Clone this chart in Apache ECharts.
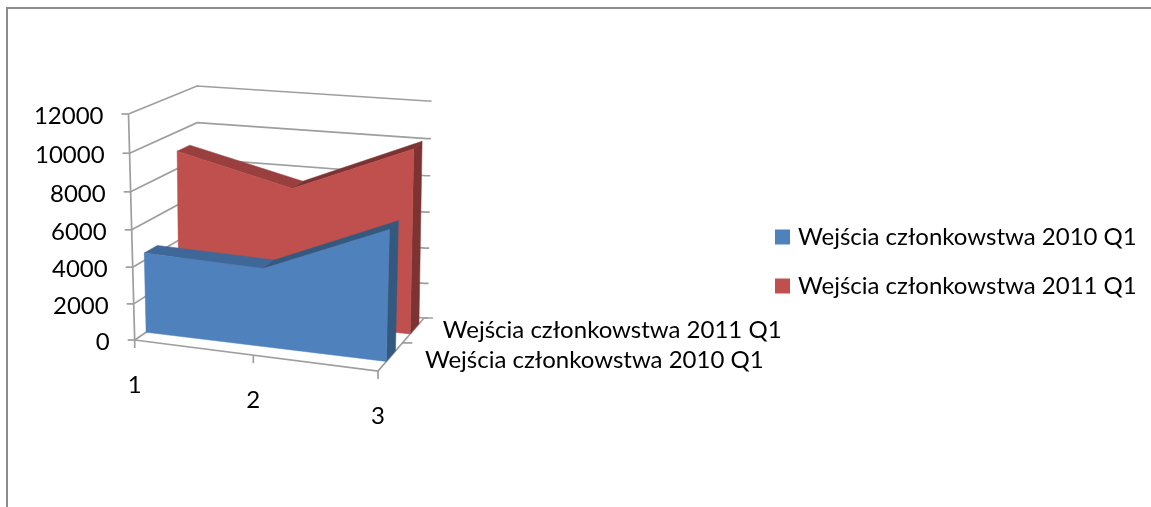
<!DOCTYPE html>
<html>
<head>
<meta charset="utf-8">
<style>
  html, body { margin: 0; padding: 0; background: #fff; }
  #chart { width: 1151px; height: 507px; }
</style>
<script src="https://cdn.jsdelivr.net/npm/echarts@6/dist/echarts.min.js"></script>
</head>
<body>
<div id="chart"></div>
<script>
var categories = ['1', '2', '3']
var valueTicks = [0, 2000, 4000, 6000, 8000, 10000, 12000]
var name2010 = 'Wejścia członkowstwa 2010 Q1'
var name2011 = 'Wejścia członkowstwa 2011 Q1'
var values2010 = [4400, 4270, 7050]
var values2011 = [8950, 7450, 10100]

var FONT = '24px Lato'
var LINE = '#9e9e9e'

// corners of the 3d box on screen: front/back, left/right, bottom/top
var box = {
  flb: [134.7, 340], flt: [128.5, 114], frb: [378, 371], frt: [384, 139],
  blb: [198, 297], blt: [197, 86], brb: [424, 318], brt: [427.5, 101]
}

function lerp(a, b, t) {
  return [a[0] + (b[0] - a[0]) * t, a[1] + (b[1] - a[1]) * t]
}

// slight perspective foreshortening
function warp(t) {
  return t - 0.05 * t * (1 - t)
}

// category/value come through the hidden axes, w is the depth in the box (0 front, 1 back)
function project(params, api, cat, val, w) {
  var c = api.coord([cat, val])
  var s = params.coordSys
  var u = warp((c[0] - s.x) / s.width)
  var v = warp(1 - (c[1] - s.y) / s.height)
  var front = lerp(lerp(box.flb, box.frb, u), lerp(box.flt, box.frt, u), v)
  var back = lerp(lerp(box.blb, box.brb, u), lerp(box.blt, box.brt, u), v)
  return lerp(front, back, w)
}

function poly(points, fill) {
  return { type: 'polygon', shape: { points: points }, style: { fill: fill, stroke: fill, lineWidth: 0.5 } }
}

function line(points) {
  return { type: 'polyline', shape: { points: points }, style: { stroke: LINE, lineWidth: 1.7, fill: null } }
}

function label(text, x, y, align) {
  return { type: 'text', style: { text: text, x: x, y: y, align: align, verticalAlign: 'middle', font: FONT, fill: '#000' } }
}

function areaRender(values, w0, w1, front, top, side) {
  return function (params, api) {
    var i = params.dataIndex
    var cat = api.value(0)
    var val = api.value(1)
    var children = []
    if (i < values.length - 1) {
      var next = values[i + 1]
      children.push(poly([
        project(params, api, cat, val, w0),
        project(params, api, cat, val, w1),
        project(params, api, cat + 1, next, w1),
        project(params, api, cat + 1, next, w0)
      ], next > val ? side : top))
    } else {
      children.push(poly([
        project(params, api, cat, 0, w0),
        project(params, api, cat, val, w0),
        project(params, api, cat, val, w1),
        project(params, api, cat, 0, w1)
      ], side))
      // whole front face in one piece, so no seam at the middle category
      var outline = [project(params, api, 1, 0, w0)]
      values.forEach(function (v, k) {
        outline.push(project(params, api, k + 1, v, w0))
      })
      outline.push(project(params, api, cat, 0, w0))
      outline.push(project(params, api, 2, 0, w0))
      children.push(poly(outline, front))
    }
    return { type: 'group', children: children }
  }
}

function gridRender(params, api) {
  var val = api.value(0)
  var p0 = project(params, api, 1, val, 0)
  var end = project(params, api, 3, val, 1)
  var children = [
    line([p0, project(params, api, 1, val, 1), end, [end[0] + 4, end[1]]]),
    line([[p0[0] - 7, p0[1]], p0]),
    label(String(val), p0[0] - 25, p0[1] + 2, 'right')
  ]
  return { type: 'group', children: children }
}

function floorRender(params, api) {
  var cat = api.value(0)
  var p = project(params, api, cat, 0, 0)
  var children = [
    line([p, [p[0], p[1] + 8]]),
    label(categories[cat - 1], p[0], p[1] + 45, 'center')
  ]
  if (params.dataIndex === 0) {
    children.push(line([p, project(params, api, 3, 0, 0), project(params, api, 3, 0, 1), [box.brb[0] + 9, box.brb[1]]]))
    children.push(line([p, project(params, api, 1, 12000, 0)]))
    var mid = project(params, api, 3, 0, 0.53)
    children.push(line([mid, [mid[0] + 10, mid[1]]]))
    var p2011 = project(params, api, 3, 0, 0.8)
    var p2010 = project(params, api, 3, 0, 0.28)
    children.push(label(name2011, p2011[0] + 28, p2011[1] + 2, 'left'))
    children.push(label(name2010, p2010[0] + 34, p2010[1] + 4, 'left'))
  }
  return { type: 'group', children: children }
}

var chart = echarts.init(document.getElementById('chart'))
chart.setOption({
  animation: false,
  backgroundColor: '#fff',
  grid: { left: 100, right: 100, top: 50, bottom: 50 },
  xAxis: { type: 'value', min: 1, max: 3, show: false },
  yAxis: { type: 'value', min: 0, max: 12000, interval: 2000, show: false },
  legend: {
    orient: 'vertical',
    left: 770,
    top: 216,
    icon: 'rect',
    itemWidth: 15,
    itemHeight: 15,
    itemGap: 17,
    selectedMode: false,
    data: [name2010, name2011],
    textStyle: { fontFamily: 'Lato', fontSize: 24, color: '#000', lineHeight: 32, padding: [0, 0, 0, 3] }
  },
  graphic: [{
    type: 'polyline',
    shape: { points: [[7, 507], [7, 8], [1151, 8]] },
    style: { stroke: '#8c8c8c', lineWidth: 2, fill: null }
  }],
  series: [
    {
      type: 'custom', name: 'grid', z: 1, silent: true,
      renderItem: gridRender,
      encode: { x: -1, y: 0 },
      data: valueTicks.map(function (v) { return [v] })
    },
    {
      type: 'custom', name: 'floor', z: 1, silent: true,
      renderItem: floorRender,
      encode: { x: 0, y: -1 },
      data: categories.map(function (c, i) { return [i + 1] })
    },
    {
      type: 'custom', name: name2011, z: 2, silent: true,
      itemStyle: { color: '#c0504d' },
      renderItem: areaRender(values2011, 0.70, 0.89, '#c0504d', '#993f3d', '#7d3331'),
      encode: { x: 0, y: 1 },
      data: values2011.map(function (v, i) { return [i + 1, v] })
    },
    {
      type: 'custom', name: name2010, z: 3, silent: true,
      itemStyle: { color: '#4f81bd' },
      renderItem: areaRender(values2010, 0.18, 0.38, '#4f81bd', '#3f6797', '#34597f'),
      encode: { x: 0, y: 1 },
      data: values2010.map(function (v, i) { return [i + 1, v] })
    }
  ]
})
</script>
</body>
</html>
